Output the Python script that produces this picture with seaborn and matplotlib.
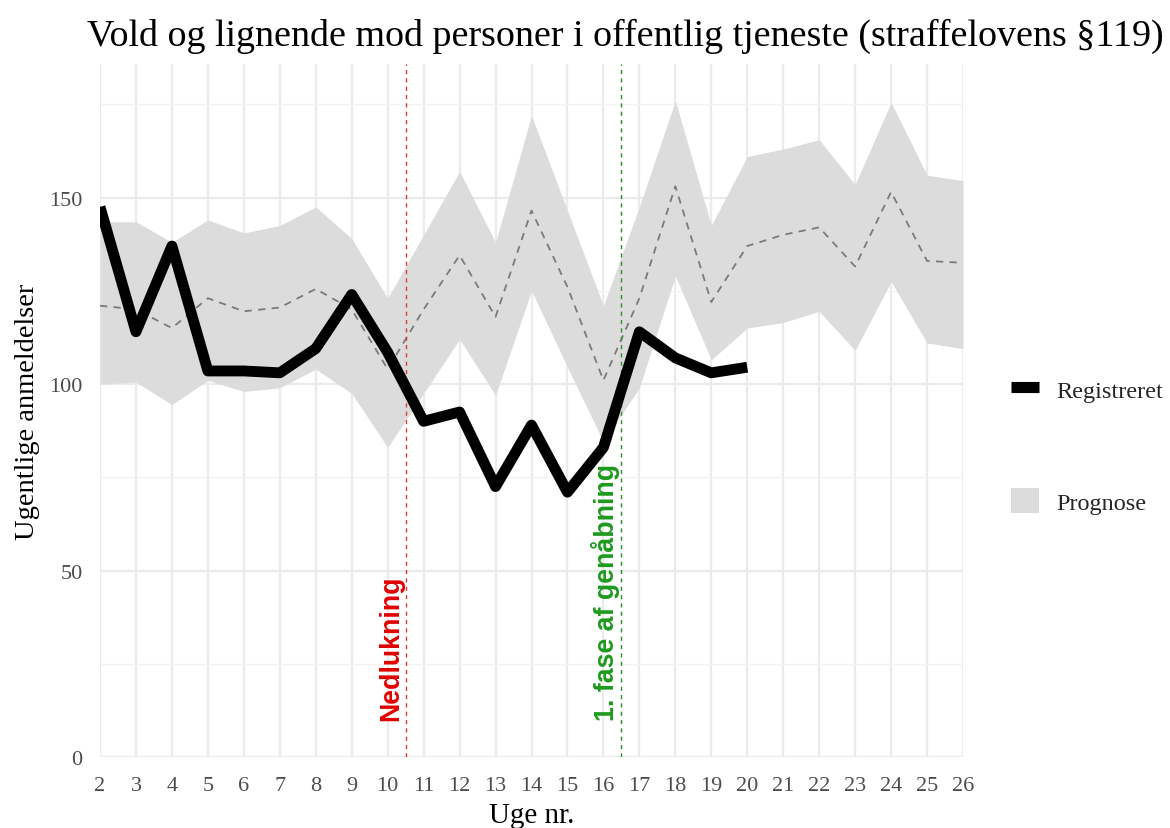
import numpy as np
import matplotlib
matplotlib.use("Agg")
import matplotlib.pyplot as plt
from matplotlib.lines import Line2D
from matplotlib.patches import Patch
import seaborn as sns

# data
weeks = [2, 3, 4, 5, 6, 7, 8, 9, 10, 11, 12, 13, 14, 15, 16, 17, 18, 19, 20, 21, 22, 23, 24, 25, 26]
reg_weeks = [2, 3, 4, 5, 6, 7, 8, 9, 10, 11, 12, 13, 14, 15, 16, 17, 18, 19, 20]
registreret = [147.5, 114, 137, 103.5, 103.5, 103, 109.5, 124, 108.5, 90, 92.5, 72.5, 89, 71, 83,
               114, 107, 103, 104.5]
prognose = [121, 120, 115, 123, 119.5, 120.5, 125.5, 120, 104, 120, 134.5, 118, 146.5, 126, 101,
            123, 153, 122, 137, 140, 142, 131.5, 151.5, 133, 132.5]
prog_upper = [143.5, 143.5, 138, 144, 140.5, 142.5, 147.5, 139, 123, 140, 157, 138, 172, 146.5, 121,
              147.5, 176, 142.5, 161, 163, 165.5, 153.5, 175.5, 156, 154.5]
prog_lower = [100, 100.5, 94.5, 101, 98, 99, 104, 97.5, 83, 97.5, 112, 97, 125, 104.5, 84.5,
              99, 129, 106.5, 115, 116.5, 119.5, 109, 127.5, 111, 109.5]
events = [(10.5, "Nedlukning", "#e00000", "#d04040"),
          (16.5, "1. fase af genåbning", "#1e9a1e", "#2e8b2e")]

sns.set_theme(style="white")
plt.rcParams['font.family'] = ['Liberation Serif', 'DejaVu Serif']

W, H = 1170, 829
fig = plt.figure(figsize=(W / 100, H / 100), dpi=100)
ax = fig.add_axes([100 / W, 1 - 758 / H, 863 / W, (758 - 65) / H])

ax.fill_between(weeks, prog_lower, prog_upper, color="#dcdcdc", lw=0, zorder=2)
sns.lineplot(x=weeks, y=prognose, ax=ax, color="#7a7a7a", lw=1.3, linestyle=(0, (4, 3.5)), zorder=3)
sns.lineplot(x=reg_weeks, y=registreret, ax=ax, color="black", lw=7.8, zorder=5,
             solid_capstyle="butt", solid_joinstyle="round")

for xv, lab, tcol, lcol in events:
    ax.axvline(xv, color=lcol, lw=1.0, linestyle=(0, (3, 3)), zorder=4)
    ax.text(xv - 0.04, 10, lab, rotation=90, ha="right", va="bottom", color=tcol,
            fontsize=19.3, fontweight="bold", family=["Liberation Sans", "DejaVu Sans"], zorder=6)

ax.set_xlim(2, 26)
ax.set_ylim(0, 185.8)
ax.set_xticks(weeks)
ax.set_xticklabels([str(w) for w in weeks])
ax.set_yticks([0, 50, 100, 150])
ax.set_yticks([25, 75, 125, 175], minor=True)
ax.grid(True, which="major", color="#ebebeb", lw=1.6, zorder=0)
ax.grid(True, which="minor", axis="y", color="#f2f2f2", lw=1.0, zorder=0)
ax.set_axisbelow(True)
for s in ax.spines.values():
    s.set_visible(False)
ax.tick_params(axis="both", length=0, labelsize=16, labelcolor="#4d4d4d")
ax.tick_params(axis="x", pad=14)
ax.tick_params(axis="y", pad=12.5)

ax.set_xlabel("Uge nr.", fontsize=21, color="black", labelpad=5)
ax.set_ylabel("Ugentlige anmeldelser", fontsize=20.5, color="black", labelpad=7)

fig.text(625 / W, 1 - 36 / H, "Vold og lignende mod personer i offentlig tjeneste (straffelovens §119)",
         ha="center", va="center", fontsize=27.4, color="black")

handles = [Line2D([0], [0], color="black", lw=8, solid_capstyle="butt"),
           Patch(facecolor="#dcdcdc", edgecolor="none")]
fig.legend(handles, ["Registreret", "Prognose"], loc="center left",
           bbox_to_anchor=(989 / W, 1 - 446 / H), frameon=False, fontsize=17.5,
           handlelength=1.15, handleheight=1.25, labelspacing=3.5, handletextpad=0.72)

fig.savefig("out.png", dpi=100)
